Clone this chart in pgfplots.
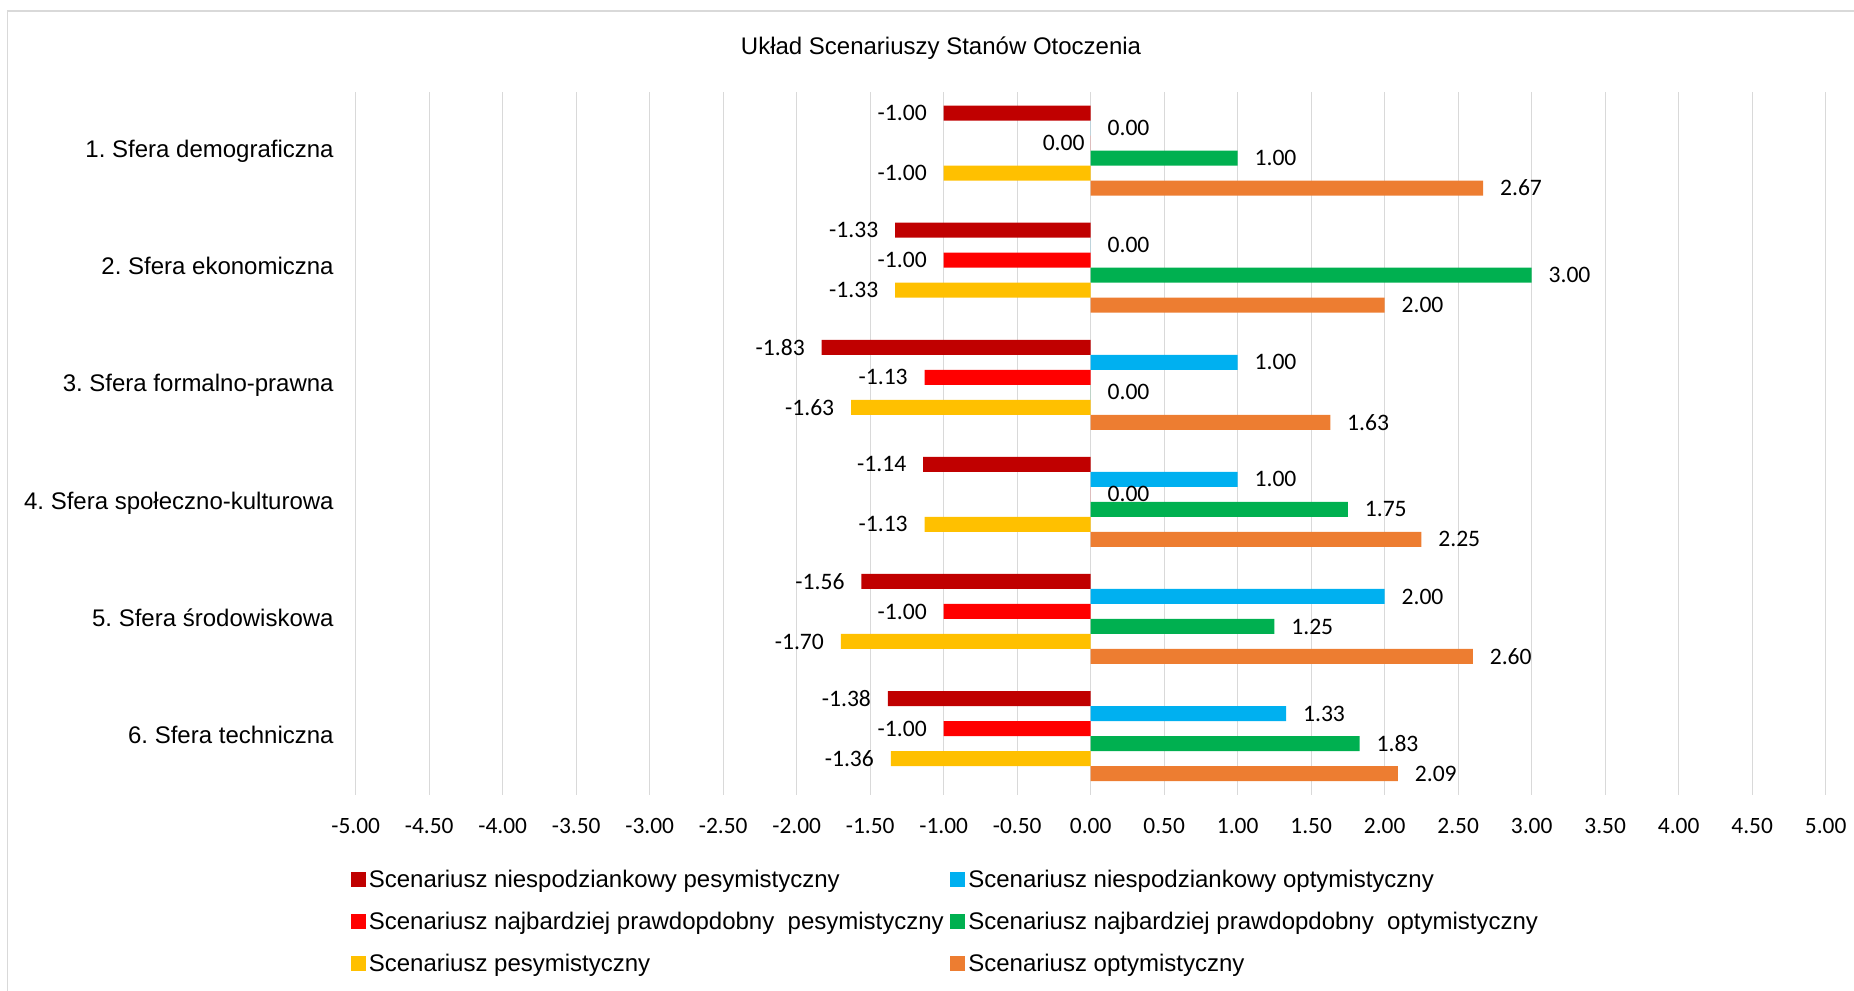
\documentclass[border=0pt]{standalone}
\usepackage{pgfplots}
\pgfplotsset{compat=1.18}
\usepackage{pgfplotstable}
\usepackage{fontspec}
\setmainfont{Liberation Sans}
\newfontfamily\calibri{Carlito}
\definecolor{cDR}{HTML}{C00000}
\definecolor{cBL}{HTML}{00B0F0}
\definecolor{cRD}{HTML}{FF0000}
\definecolor{cGR}{HTML}{00B050}
\definecolor{cYE}{HTML}{FFC000}
\definecolor{cOR}{HTML}{ED7D31}
\definecolor{cGRID}{HTML}{D9D9D9}

% y: 5 = 1. Sfera demograficzna ... 0 = 6. Sfera techniczna
% d: horizontal offset of the value label (pt), negative = label left of bar end
\pgfplotstableread{
y x d
5 -1.00 -8.25
4 -1.33 -8.25
3 -1.83 -8.25
2 -1.14 -8.25
1 -1.56 -8.25
0 -1.38 -8.25
}\sA
\pgfplotstableread{
y x d
5 0.00 8.25
4 0.00 8.25
3 1.00 8.25
2 1.00 8.25
1 2.00 8.25
0 1.33 8.25
}\sB
\pgfplotstableread{
y x d
5 0.00 -2.85
4 -1.00 -8.25
3 -1.13 -8.25
2 0.00 8.25
1 -1.00 -8.25
0 -1.00 -8.25
}\sC
\pgfplotstableread{
y x d
5 1.00 8.25
4 3.00 8.25
3 0.00 8.25
2 1.75 8.25
1 1.25 8.25
0 1.83 8.25
}\sD
\pgfplotstableread{
y x d
5 -1.00 -8.25
4 -1.33 -8.25
3 -1.63 -8.25
2 -1.13 -8.25
1 -1.70 -8.25
0 -1.36 -8.25
}\sE
\pgfplotstableread{
y x d
5 2.67 8.25
4 2.00 8.25
3 1.63 8.25
2 2.25 8.25
1 2.60 8.25
0 2.09 8.25
}\sF

\begin{document}
\frenchspacing
\begin{tikzpicture}
\path[use as bounding box] (0,0) rectangle (927pt,-495.5pt);
\draw[cGRID, line width=0.75pt] (3.75pt,-495.5pt) -- (3.75pt,-5.5pt) -- (927pt,-5.5pt);
\begin{axis}[
  at={(177.85pt,-46pt)}, anchor=north west,
  scale only axis, width=735pt, height=351.3pt,
  xbar, bar width=7.5pt,
  xmin=-5, xmax=5, ymin=-0.5, ymax=5.5,
  enlargelimits=false, clip=false,
  xtick={-5,-4.5,-4,-3.5,-3,-2.5,-2,-1.5,-1,-0.5,0,0.5,1,1.5,2,2.5,3,3.5,4,4.5,5},
  xmajorgrids, major grid style={cGRID, line width=0.6pt},
  axis line style={draw=none}, major tick length=0pt,
  /pgf/number format/fixed, /pgf/number format/fixed zerofill,
  /pgf/number format/precision=2, /pgf/number format/assume math mode=true,
  xticklabel style={font=\calibri\fontsize{11.7pt}{13pt}\selectfont, anchor=base, yshift=-19.35pt, inner sep=0pt},
  ytick={0,1,2,3,4,5},
  yticklabels={6. Sfera techniczna, 5. Sfera środowiskowa, 4. Sfera społeczno-kulturowa, 3. Sfera formalno-prawna, 2. Sfera ekonomiczna, 1. Sfera demograficzna},
  yticklabel style={font=\fontsize{12pt}{14pt}\selectfont, anchor=base east, xshift=-10.85pt, yshift=-3.6pt, inner sep=0pt},
  title={Układ Scenariuszy Stanów Otoczenia},
  title style={at={(0.3982,1)}, anchor=base, yshift=13pt, inner sep=0pt, font=\fontsize{12pt}{14pt}\selectfont},
  point meta=x,
  nodes near coords,
  visualization depends on={\thisrow{d} \as \dsh},
  every node near coord/.append style={font=\calibri\fontsize{11.8pt}{13pt}\selectfont, inner sep=0pt,
     anchor=\ifdim\dsh pt<0pt east\else west\fi, xshift=\dsh pt, text=black},
  legend columns=2,
  legend cell align=left,
  legend style={at={(-0.0035,-0.1085)}, anchor=north west, draw=none, fill=none, inner sep=0pt, outer sep=0pt,
    /tikz/column sep=1.65pt, /tikz/row sep=12.5pt, font=\fontsize{12pt}{14pt}\selectfont,
    nodes={inner sep=0pt, text height=8.5pt, text depth=0pt}},
  every axis plot post/.append style={legend image code/.code={\fill[##1] (0pt,-3.75pt) rectangle (7.5pt,3.75pt);}},
]
\addplot[fill=cDR, draw=none, bar shift=18.75pt] table[x=x, y=y] {\sA};
\addlegendentry{\makebox[288.95pt][l]{Scenariusz niespodziankowy pesymistyczny}}
\addplot[fill=cBL, draw=none, bar shift=11.25pt] table[x=x, y=y] {\sB};
\addlegendentry{Scenariusz niespodziankowy optymistyczny}
\addplot[fill=cRD, draw=none, bar shift=3.75pt] table[x=x, y=y] {\sC};
\addlegendentry{\makebox[288.95pt][l]{Scenariusz najbardziej prawdopdobny~\ pesymistyczny}}
\addplot[fill=cGR, draw=none, bar shift=-3.75pt] table[x=x, y=y] {\sD};
\addlegendentry{Scenariusz najbardziej prawdopdobny~\ optymistyczny}
\addplot[fill=cYE, draw=none, bar shift=-11.25pt] table[x=x, y=y] {\sE};
\addlegendentry{\makebox[288.95pt][l]{Scenariusz pesymistyczny}}
\addplot[fill=cOR, draw=none, bar shift=-18.75pt] table[x=x, y=y] {\sF};
\addlegendentry{Scenariusz optymistyczny}
\end{axis}
\end{tikzpicture}
\end{document}
